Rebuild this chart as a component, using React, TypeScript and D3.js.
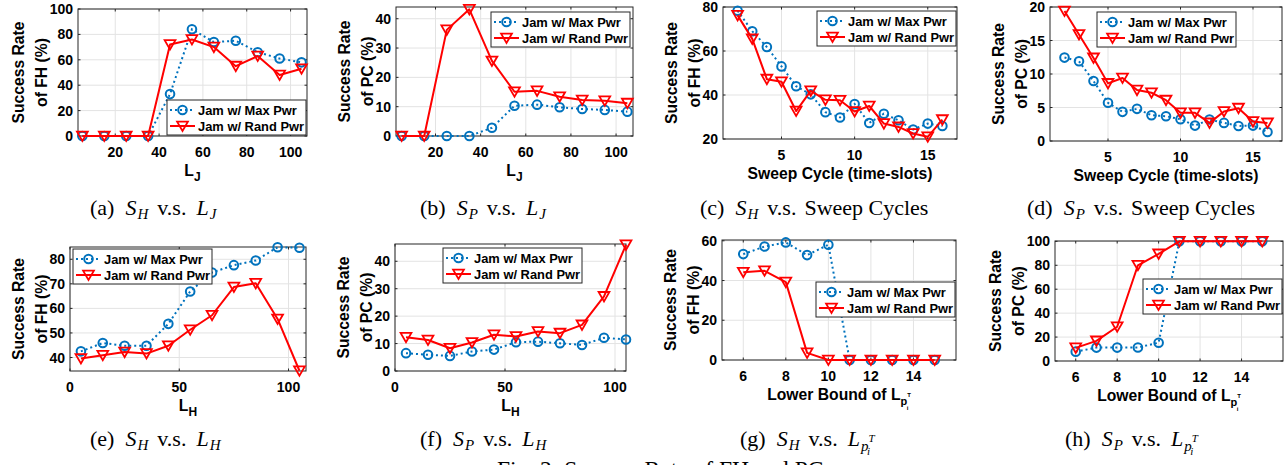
import React from 'react'
import * as d3 from 'd3'

// x values
const LJ = [5, 15, 25, 35, 45, 55, 65, 75, 85, 95, 105]
const SWEEP = [2, 3, 4, 5, 6, 7, 8, 9, 10, 11, 12, 13, 14, 15, 16]
const LH = [5, 15, 25, 35, 45, 55, 65, 75, 85, 95, 105]
const LP = [6, 7, 8, 9, 10, 11, 12, 13, 14, 15]

// (a) S_H vs L_J
const SH_LJ_MAX = [0, 0, 0, 0, 33, 84, 74, 75, 66, 61, 58]
const SH_LJ_RAND = [0, 0, 0, 0, 72, 76, 70, 55, 63, 48, 53]
// (b) S_P vs L_J
const SP_LJ_MAX = [0, 0, 0, 0, 2.8, 10.3, 10.7, 9.8, 9.2, 8.9, 8.3]
const SP_LJ_RAND = [0, 0, 36.2, 43.2, 25.6, 15.1, 15.4, 13.4, 12.3, 12.0, 11.2]
// (c) S_H vs sweep cycle
const SH_SW_MAX = [78.3, 69, 61.8, 53, 44, 40.3, 32.2, 29.8, 35.9, 27.3, 31.5, 28.5, 24.3, 27, 25.9]
const SH_SW_RAND = [76.2, 65.5, 47.2, 46, 32.7, 41.9, 37.8, 37.6, 32.5, 35, 27, 25.5, 22.5, 21, 28.8]
// (d) S_P vs sweep cycle
const SP_SW_MAX = [12.45, 11.9, 8.95, 5.7, 4.35, 4.8, 3.85, 3.7, 3.25, 2.3, 3.2, 2.7, 2.25, 2.3, 1.35]
const SP_SW_RAND = [19.4, 15.9, 12.4, 8.6, 9.4, 7.6, 7.2, 6.1, 4.2, 4.2, 2.7, 4.4, 4.9, 2.9, 2.7]
// (e) S_H vs L_H
const SH_LH_MAX = [42.5, 45.9, 44.8, 44.8, 53.7, 66.9, 74.6, 77.6, 79.5, 84.9, 84.7]
const SH_LH_RAND = [39.6, 40.9, 42.2, 41.6, 44.8, 51.3, 57.2, 68.7, 70.2, 55.7, 34.6]
// (f) S_P vs L_H
const SP_LH_MAX = [6.5, 5.9, 5.5, 7.1, 7.8, 10.5, 10.7, 10.1, 9.5, 12.1, 11.5]
const SP_LH_RAND = [12.3, 11.3, 8.3, 10.4, 13.2, 12.6, 14.4, 13.8, 16.8, 27.2, 46]
// (g) S_H vs lower bound of L_p
const SH_LP_MAX = [53.3, 57.1, 59.2, 52.8, 58, 0, 0, 0, 0, 0]
const SH_LP_RAND = [44.2, 44.9, 39.2, 3.6, 0, 0, 0, 0, 0, 0]
// (h) S_P vs lower bound of L_p
const SP_LP_MAX = [7.8, 11.2, 11.2, 11.3, 15.3, 100, 100, 100, 100, 100]
const SP_LP_RAND = [11, 16.8, 28.6, 80, 89.5, 100, 100, 100, 100, 100]

// tick labels
const XT_L = [20, 40, 60, 80, 100]
const XT_SW = [5, 10, 15]
const XT_LH = [0, 50, 100]
const XT_LP = [6, 8, 10, 12, 14]
const YT_100 = [0, 20, 40, 60, 80, 100]
const YT_40 = [0, 10, 20, 30, 40]
const YT_SHSW = [20, 40, 60, 80]
const YT_SPSW = [0, 5, 10, 15, 20]
const YT_SHLH = [40, 50, 60, 70, 80]
const YT_60 = [0, 20, 40, 60]

const LEGEND = ['Jam w/ Max Pwr', 'Jam w/ Rand Pwr']

const SANS = "'Liberation Sans', Arial, Helvetica, sans-serif"
const SERIF = "'Liberation Serif', 'Times New Roman', serif"
const BLUE = '#0072BD'
const RED = '#FF0000'
const AX = '#262626'
const GRID = '#e3e3e3'

const panels = [
  { xs: LJ, max: SH_LJ_MAX, rand: SH_LJ_RAND, box: [78, 307, 9, 136], xd: [3, 107.5], yd: [0, 100], xt: XT_L, yt: YT_100, m: 'FH', xl: 'LJ', leg: [167, 100], cap: [90, 215, 'a', 'H', 'LJ'] },
  { xs: LJ, max: SP_LJ_MAX, rand: SP_LJ_RAND, box: [396, 633, 7, 136], xd: [2.5, 107.5], yd: [0, 44], xt: XT_L, yt: YT_40, m: 'PC', xl: 'LJ', leg: [491, 12], cap: [420, 215, 'b', 'P', 'LJ'] },
  { xs: SWEEP, max: SH_SW_MAX, rand: SH_SW_RAND, box: [723, 957, 7, 139], xd: [1, 17], yd: [20, 80], xt: XT_SW, yt: YT_SHSW, m: 'FH', xl: 'SW', leg: [817, 11], cap: [700, 215, 'c', 'H', 'SW'] },
  { xs: SWEEP, max: SP_SW_MAX, rand: SP_SW_RAND, box: [1050, 1282, 7, 141], xd: [1, 17], yd: [0, 20], xt: XT_SW, yt: YT_SPSW, m: 'PC', xl: 'SW', leg: [1097, 12], cap: [1027, 215, 'd', 'P', 'SW'] },
  { xs: LH, max: SH_LH_MAX, rand: SH_LH_RAND, box: [70, 306, 247, 371], xd: [0, 108], yd: [34.5, 85], xt: XT_LH, yt: YT_SHLH, m: 'FH', xl: 'LH', leg: [73, 249], cap: [90, 446, 'e', 'H', 'LH'] },
  { xs: LH, max: SP_LH_MAX, rand: SP_LH_RAND, box: [395, 626, 244, 371], xd: [0, 105], yd: [0, 46.3], xt: XT_LH, yt: YT_40, m: 'PC', xl: 'LH', leg: [443, 248], cap: [420, 446, 'f', 'P', 'LH'] },
  { xs: LP, max: SH_LP_MAX, rand: SH_LP_RAND, box: [722, 956, 240, 360], xd: [5, 16], yd: [0, 60.4], xt: XT_LP, yt: YT_60, m: 'FH', xl: 'LP', leg: [816, 282], cap: [740, 446, 'g', 'H', 'LP'] },
  { xs: LP, max: SP_LP_MAX, rand: SP_LP_RAND, box: [1055, 1283, 241, 361], xd: [5, 16], yd: [0, 100.3], xt: XT_LP, yt: YT_100, m: 'PC', xl: 'LP', leg: [1143, 279], cap: [1065, 446, 'h', 'P', 'LP'] },
]

const Circle = ({ x, y }) => <circle cx={x} cy={y} r={4.3} fill="none" stroke={BLUE} strokeWidth={2} />

const Tri = ({ x, y }) => (
  <path d={`M${x - 5.4},${y - 4.4}L${x + 5.4},${y - 4.4}L${x},${y + 5}Z`} fill="none" stroke={RED} strokeWidth={1.8} strokeLinejoin="miter" />
)

const XLabel = ({ kind, x, y }) => {
  const common = { x, y, textAnchor: 'middle', fontFamily: SANS, fontWeight: 'bold', fontSize: 15.7, fill: '#000' }
  if (kind === 'SW') return <text {...common}>Sweep Cycle (time-slots)</text>
  if (kind === 'LP')
    return (
      <text {...common}>
        <tspan>Lower Bound of L</tspan>
        <tspan fontSize={11} dy={5}>p</tspan>
        <tspan fontSize={6} dy={-8}>T</tspan>
        <tspan fontSize={6} dx={-4} dy={13}>i</tspan>
      </text>
    )
  return (
    <text {...common}>
      <tspan>L</tspan>
      <tspan fontSize={12} dy={5}>{kind === 'LJ' ? 'J' : 'H'}</tspan>
    </text>
  )
}

// caption such as "(a) S_H v.s. L_J", all pieces flow from one anchor
const Caption = ({ cap }) => {
  const [x, y, tag, s, rhs] = cap
  let right
  if (rhs === 'SW') right = <tspan dx={8}>Sweep Cycles</tspan>
  else if (rhs === 'LP')
    right = (
      <>
        <tspan dx={10} fontStyle="italic">L</tspan>
        <tspan dx={1} dy={5} fontSize={15} fontStyle="italic">p</tspan>
        <tspan dy={-9} fontSize={11} fontStyle="italic">T</tspan>
        <tspan dx={-7} dy={13} fontSize={11} fontStyle="italic">i</tspan>
      </>
    )
  else
    right = (
      <>
        <tspan dx={10} fontStyle="italic">L</tspan>
        <tspan dx={1} dy={4} fontSize={15} fontStyle="italic">{rhs === 'LJ' ? 'J' : 'H'}</tspan>
      </>
    )
  return (
    <text x={x} y={y} fontFamily={SERIF} fontSize={22} fill="#000">
      <tspan>({tag})</tspan>
      <tspan dx={11} fontStyle="italic">S</tspan>
      <tspan dx={1} dy={4} fontSize={15} fontStyle="italic">{s}</tspan>
      <tspan dx={9} dy={-4}>v.s.</tspan>
      {right}
    </text>
  )
}

const Panel = ({ p }) => {
  const [x0, x1, y0, y1] = p.box
  const x = d3.scaleLinear().domain(p.xd).range([x0, x1])
  const y = d3.scaleLinear().domain(p.yd).range([y1, y0])
  const line = d3.line<number>().x((_, i) => x(p.xs[i])).y((d) => y(d))
  const tickW = d3.max(p.yt, (t) => String(t).length) * 0.556 * 14
  const yl2 = x0 - 5 - tickW - 8
  const yl1 = yl2 - 23
  const yc = (y0 + y1) / 2
  const [lx, ly] = p.leg
  const lw = 139
  const lh = 35
  return (
    <g>
      <rect x={x0} y={y0} width={x1 - x0} height={y1 - y0} fill="#fff" />
      {p.xt.map((t) => (
        <line key={'gx' + t} x1={x(t)} x2={x(t)} y1={y0} y2={y1} stroke={GRID} strokeWidth={1} />
      ))}
      {p.yt.map((t) => (
        <line key={'gy' + t} x1={x0} x2={x1} y1={y(t)} y2={y(t)} stroke={GRID} strokeWidth={1} />
      ))}
      {p.xt.map((t) => (
        <g key={'tx' + t}>
          <line x1={x(t)} x2={x(t)} y1={y1} y2={y1 - 2.5} stroke={AX} />
          <line x1={x(t)} x2={x(t)} y1={y0} y2={y0 + 2.5} stroke={AX} />
          <text x={x(t)} y={y1 + 21} textAnchor="middle" fontFamily={SANS} fontWeight="bold" fontSize={14} fill="#000">
            {t}
          </text>
        </g>
      ))}
      {p.yt.map((t) => (
        <g key={'ty' + t}>
          <line x1={x0} x2={x0 + 2.5} y1={y(t)} y2={y(t)} stroke={AX} />
          <line x1={x1} x2={x1 - 2.5} y1={y(t)} y2={y(t)} stroke={AX} />
          <text x={x0 - 5} y={y(t)} dy="0.36em" textAnchor="end" fontFamily={SANS} fontWeight="bold" fontSize={14} fill="#000">
            {t}
          </text>
        </g>
      ))}
      <rect x={x0} y={y0} width={x1 - x0} height={y1 - y0} fill="none" stroke={AX} strokeWidth={1} />
      <path d={line(p.max)} fill="none" stroke={BLUE} strokeWidth={2} strokeDasharray="2 3" />
      {p.max.map((v, i) => (
        <Circle key={'c' + i} x={x(p.xs[i])} y={y(v)} />
      ))}
      <path d={line(p.rand)} fill="none" stroke={RED} strokeWidth={2} strokeLinejoin="round" />
      {p.rand.map((v, i) => (
        <Tri key={'t' + i} x={x(p.xs[i])} y={y(v)} />
      ))}
      <g fontFamily={SANS} fontWeight="bold" fontSize={14}>
        <text transform={`rotate(-90, ${yl1}, ${yc})`} x={yl1} y={yc} dy="0.36em" textAnchor="middle" fontSize={15.7}>
          Success Rate
        </text>
        <text transform={`rotate(-90, ${yl2}, ${yc})`} x={yl2} y={yc} dy="0.36em" textAnchor="middle" fontSize={15.7}>
          of {p.m} (%)
        </text>
      </g>
      <XLabel kind={p.xl} x={(x0 + x1) / 2} y={y1 + 40} />
      <g>
        <rect x={lx} y={ly} width={lw} height={lh} fill="#fff" stroke={AX} strokeWidth={1} />
        <line x1={lx + 3} x2={lx + 28} y1={ly + 10} y2={ly + 10} stroke={BLUE} strokeWidth={2} strokeDasharray="2 3" />
        <Circle x={lx + 15.5} y={ly + 10} />
        <line x1={lx + 3} x2={lx + 28} y1={ly + 26} y2={ly + 26} stroke={RED} strokeWidth={2} />
        <Tri x={lx + 15.5} y={ly + 26} />
        {LEGEND.map((s, i) => (
          <text key={s} x={lx + 31} y={ly + 10 + i * 16} dy="0.36em" fontFamily={SANS} fontWeight="bold" fontSize={12.9} fill="#000">
            {s}
          </text>
        ))}
      </g>
      <Caption cap={p.cap} />
    </g>
  )
}

export default function App() {
  return (
    <svg width={1286} height={465} style={{ position: 'absolute', left: 0, top: 0, background: '#fff' }}>
      <rect width={1286} height={465} fill="#fff" />
      {panels.map((p, i) => (
        <Panel key={i} p={p} />
      ))}
      <text x={497} y={477} fontFamily={SERIF} fontSize={23.5} fill="#000">
        Fig. 2: Success Rate of FH and PC.
      </text>
    </svg>
  )
}
